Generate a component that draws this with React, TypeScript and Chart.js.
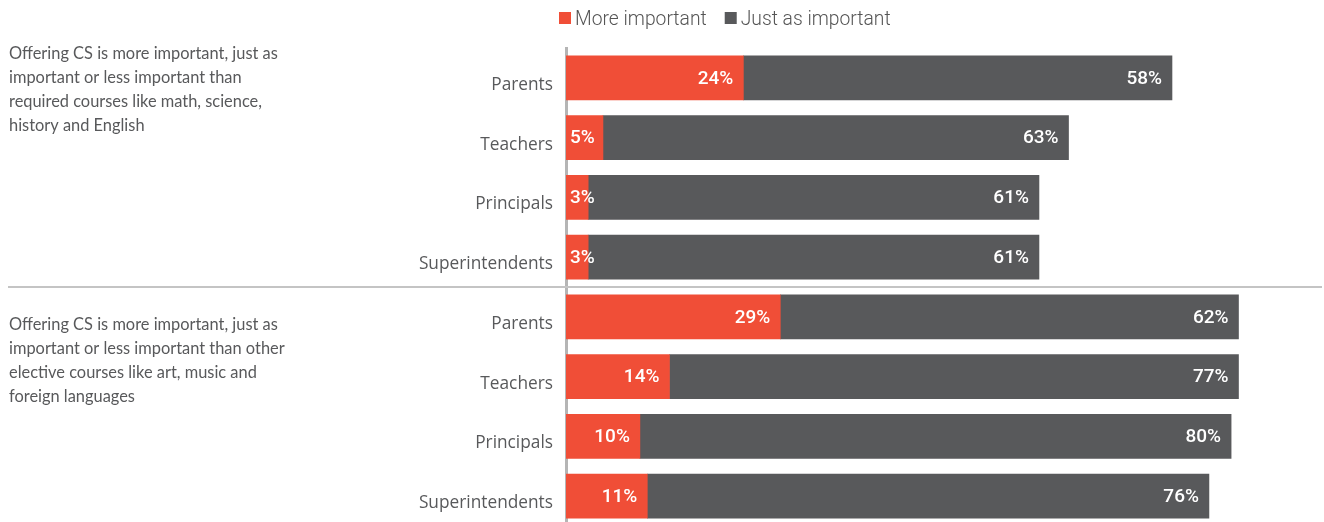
import React, { useEffect, useRef } from 'react';
import { Chart, registerables } from 'chart.js';

Chart.register(...registerables);

const categories = [
  'Parents', 'Teachers', 'Principals', 'Superintendents',
  'Parents', 'Teachers', 'Principals', 'Superintendents',
];
const moreImportant = [24, 5, 3, 3, 29, 14, 10, 11];
const justAsImportant = [58, 63, 61, 61, 62, 77, 80, 76];
const seriesNames = ['More important', 'Just as important'];
const seriesColors = ['#F04E37', '#58595B'];
const groupNoteA = [
  'Offering CS is more important, just as',
  'important or less important than',
  'required courses like math, science,',
  'history and English',
];
const groupNoteB = [
  'Offering CS is more important, just as',
  'important or less important than other',
  'elective courses like art, music and',
  'foreign languages',
];

const W = 1324;
const H = 530;

const annotations = {
  id: 'annotations',
  beforeDatasetsDraw(chart: any) {
    const ctx = chart.ctx;
    const y = chart.scales.y;
    const sepY = (y.getPixelForValue(3) + y.getPixelForValue(4)) / 2;
    ctx.save();
    ctx.strokeStyle = '#c4c4c4';
    ctx.lineWidth = 2;
    ctx.beginPath();
    ctx.moveTo(8, sepY);
    ctx.lineTo(1322, sepY);
    ctx.stroke();
    ctx.restore();
  },
  afterDatasetsDraw(chart: any) {
    const ctx = chart.ctx;
    ctx.save();
    ctx.font = '500 19px Roboto';
    ctx.fillStyle = '#ffffff';
    ctx.textBaseline = 'middle';
    ctx.textAlign = 'left';
    chart.data.datasets.forEach((ds: any, di: number) => {
      const meta = chart.getDatasetMeta(di);
      meta.data.forEach((bar: any, i: number) => {
        const txt = ds.data[i] + '%';
        const w = ctx.measureText(txt).width;
        const start = Math.min(bar.base, bar.x);
        const end = Math.max(bar.base, bar.x);
        const right = Math.max(end - 10, start + w + 4);
        ctx.fillText(txt, right - w, bar.y + 1);
      });
    });
    ctx.restore();
  },
  afterDraw(chart: any) {
    const ctx = chart.ctx;
    ctx.save();
    // legend
    ctx.font = '300 19.3px Roboto';
    ctx.textBaseline = 'middle';
    ctx.textAlign = 'left';
    let x = 559;
    const ly = 18;
    chart.data.datasets.forEach((ds: any) => {
      ctx.fillStyle = ds.backgroundColor;
      ctx.fillRect(x, ly - 6, 12, 12);
      ctx.fillStyle = '#555555';
      ctx.fillText(ds.label, x + 16, ly + 2);
      x += 16 + ctx.measureText(ds.label).width + 18;
    });
    // group notes
    ctx.font = '16.4px Lato';
    ctx.fillStyle = '#58595B';
    ctx.textBaseline = 'alphabetic';
    groupNoteA.forEach((line, i) => ctx.fillText(line, 9, 59 + i * 24));
    groupNoteB.forEach((line, i) => ctx.fillText(line, 9, 330 + i * 24));
    ctx.restore();
  },
};

export default function App() {
  const ref = useRef<HTMLCanvasElement>(null);
  useEffect(() => {
    if (!ref.current) return;
    const chart = new Chart(ref.current, {
      type: 'bar',
      data: {
        labels: categories,
        datasets: [
          { label: seriesNames[0], data: moreImportant, backgroundColor: seriesColors[0], barThickness: 44 },
          { label: seriesNames[1], data: justAsImportant, backgroundColor: seriesColors[1], barThickness: 44 },
        ],
      },
      options: {
        indexAxis: 'y',
        responsive: false,
        animation: false,
        layout: { padding: { top: 48, right: 19, bottom: 4, left: 0 } },
        plugins: {
          legend: { display: false },
          tooltip: { enabled: false },
        },
        scales: {
          x: { stacked: true, min: 0, max: 100, display: false },
          y: {
            stacked: true,
            grid: { display: false, drawTicks: false },
            border: { display: true, color: '#b5b5b5', width: 3 },
            ticks: {
              color: '#58595B',
              font: { family: 'Open Sans', size: 17.3 },
              padding: 13,
              labelOffset: 7,
            },
            afterFit: (s: any) => { s.width = 566; s.paddingTop = 0; s.paddingBottom = 0; },
          },
        },
      },
      plugins: [annotations],
    } as any);
    return () => chart.destroy();
  }, []);
  return (
    <div style={{ position: 'fixed', left: 0, top: 0, width: W, height: H }}>
      <canvas ref={ref} width={W} height={H} style={{ width: W, height: H }} />
    </div>
  );
}
